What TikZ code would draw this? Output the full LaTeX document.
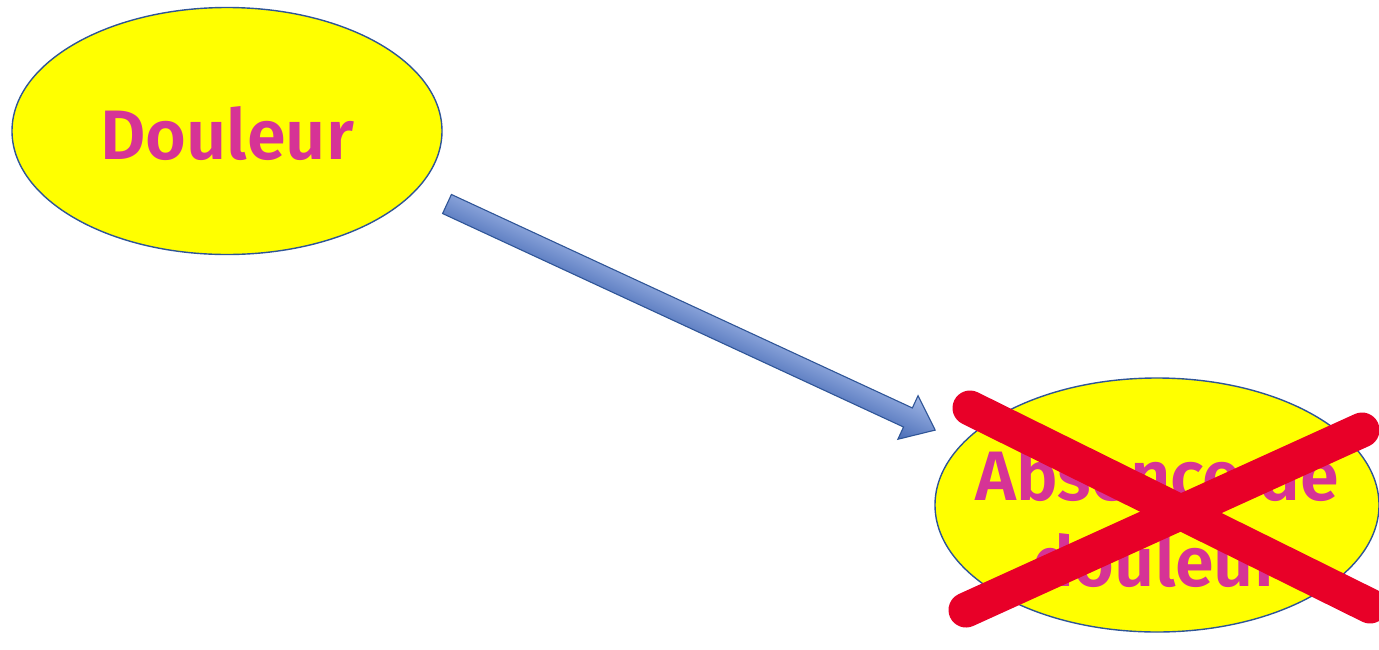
\documentclass[tikz,border=0pt]{standalone}
\usepackage{fontspec}
\setmainfont{Fira Sans}[BoldFont={Fira Sans SemiBold}]
\usetikzlibrary{shapes.geometric}
\definecolor{ellfill}{RGB}{255,255,0}
\definecolor{elldraw}{RGB}{47,85,151}
\definecolor{txtmag}{RGB}{214,51,150}
\definecolor{crossred}{RGB}{232,0,40}
\definecolor{arrtop}{RGB}{160,182,230}
\definecolor{arrbot}{RGB}{72,108,182}
\definecolor{arrline}{RGB}{47,85,151}
\tikzset{
  bubble/.style={ellipse, draw=elldraw, line width=1.4pt, fill=ellfill, inner sep=0pt},
  bubbletext/.style={text=txtmag, align=center, inner sep=0pt,
    font=\bfseries\fontsize{70}{86}\selectfont},
  crossstroke/.style={draw=crossred, line width=35pt, line cap=round}
}
\begin{document}
\begin{tikzpicture}[x=1pt,y=-1pt]
\useasboundingbox (0,0) rectangle (1379,649);
\node[bubble, minimum width=430pt, minimum height=247pt] (d) at (227,131) {};
\node[bubbletext] (dt) at ([yshift=-3pt]d.center) {Douleur};
\node[bubble, minimum width=444pt, minimum height=254pt] (a) at (1157,505) {};
\node[bubbletext] (at) at ([yshift=-13pt]a.center) {Absence de\\douleur};
% arrow
\coordinate (s) at (447,204);
\begin{scope}[transform canvas={shift={(s)}, rotate=-24.85}]
  \shade[top color=arrtop, bottom color=arrbot, draw=arrline, line width=1.1pt]
    (0,-10.5) -- (508,-10.5) -- (508,-24) -- (538,0) -- (508,24) -- (508,10.5) -- (0,10.5) -- cycle;
\end{scope}
% red cross
\coordinate (x1) at (970,408);
\coordinate (x2) at (1370,606);
\coordinate (x3) at (1362,430);
\coordinate (x4) at (966,610);
\draw[crossstroke] (x1) -- (x2);
\draw[crossstroke] (x3) -- (x4);
\end{tikzpicture}
\end{document}
